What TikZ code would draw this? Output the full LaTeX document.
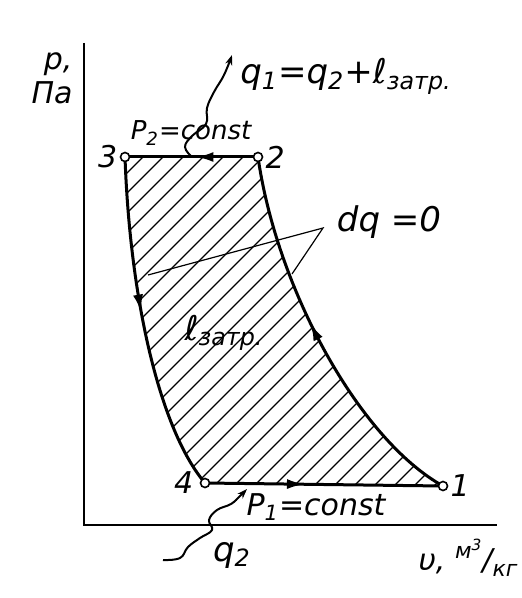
\documentclass[tikz,border=0pt]{standalone}
\usepackage{fontspec}
\setmainfont{DejaVu Sans}
\usetikzlibrary{arrows.meta,decorations.markings}

\begin{document}
\begin{tikzpicture}[
    x=0.5pt, y=-0.5pt,
    axis/.style={line width=1.1pt},
    cyc/.style={line width=1.5pt},
    hatch/.style={line width=0.6pt},
    lead/.style={line width=0.6pt},
    wave/.style={line width=1pt, -{Stealth[length=5pt,width=3.5pt]}},
    dot/.style={circle, draw, fill=white, line width=0.8pt, inner sep=0pt, minimum size=4.5pt},
    num/.style={font=\itshape\fontsize{15}{15}\selectfont, inner sep=1pt},
    lbl/.style={font=\itshape\fontsize{15}{17}\selectfont, inner sep=0pt},
    midarr/.style={postaction={decorate}, decoration={markings, mark=at position #1 with {\arrow{Latex[length=9pt,width=5pt]}}}}
  ]
  \useasboundingbox (0,0) rectangle (522,598);

  % axes
  \coordinate (O) at (84,525);
  \coordinate (ytop) at (84,43);
  \coordinate (xend) at (497,525);
  \draw[axis] (ytop) -- (O) -- (xend);
  \node[lbl, align=right] (ylbl) at (52,78) {p,\\Па};
  \node[lbl] (xlbl) at (468,558) {υ, \raisebox{0.7ex}{\fontsize{11}{11}\selectfont м\textsuperscript{3}}/\raisebox{-0.4ex}{\fontsize{11}{11}\selectfont кг}};

  % cycle corners
  \coordinate (c1) at (443,486);
  \coordinate (c2) at (258,157);
  \coordinate (c3) at (125,157);
  \coordinate (c4) at (205,483);

  % hatched work area
  \begin{scope}
    \clip (c3) -- (c2) .. controls (277,290) and (360,440) .. (c1) -- (c4) .. controls (160,430) and (130,300) .. (c3) -- cycle;
    \foreach \i in {0,20,...,960}
      \draw[hatch] (\i-500,540) -- (\i,40);
  \end{scope}

  \draw[cyc, midarr=0.55] (c1) .. controls (360,440) and (277,290) .. (c2);
  \draw[cyc, midarr=0.47] (c2) -- (c3);
  \draw[cyc, midarr=0.46] (c3) .. controls (130,300) and (160,430) .. (c4);
  \draw[cyc, midarr=0.42] (c4) -- (c1);

  \node[dot, label={[num]right:1}] (n1) at (c1) {};
  \node[dot, label={[num]right:2}] (n2) at (c2) {};
  \node[dot, label={[num]left:3}] (n3) at (c3) {};
  \node[dot, label={[num,label distance=2pt]left:4}] (n4) at (c4) {};

  % heat flows
  \coordinate (qa) at (192,157);
  \coordinate (qb) at (232,55);
  \draw[wave] plot[smooth, tension=0.7] coordinates {(qa) (185,147) (192,136) (206,124) (207,108) (214,92) (224,75) (qb)};
  \coordinate (qc) at (163,560);
  \coordinate (qd) at (247,489);
  \draw[wave] plot[smooth, tension=0.7] coordinates {(qc) (180,558) (188,547) (200,538) (212,530) (209,520) (217,510) (231,504) (240,496) (qd)};

  \node[lbl, font=\itshape\fontsize{17}{17}\selectfont, anchor=base west] (q1lbl) at (240,84) {q\textsubscript{1}=q\textsubscript{2}+ℓ\textsubscript{затр.}};
  \node[lbl, font=\itshape\fontsize{17}{17}\selectfont] (q2lbl) at (232,555) {q\textsubscript{2}};
  \node[lbl, font=\itshape\fontsize{13}{13}\selectfont] (p2lbl) at (191,133) {P\textsubscript{2}=const};
  \node[lbl] (p1lbl) at (316,507) {P\textsubscript{1}=const};
  \node[lbl, font=\itshape\fontsize{17}{17}\selectfont] (llbl) at (224,333) {ℓ\textsubscript{затр.}};

  % adiabats
  \node[lbl, font=\itshape\fontsize{17}{17}\selectfont] (dq) at (389,222) {dq =0};
  \coordinate (dqp) at (323,228);
  \coordinate (la) at (148,275);
  \coordinate (lb) at (292,274);
  \draw[lead] (la) -- (dqp) -- (lb);
\end{tikzpicture}
\end{document}
